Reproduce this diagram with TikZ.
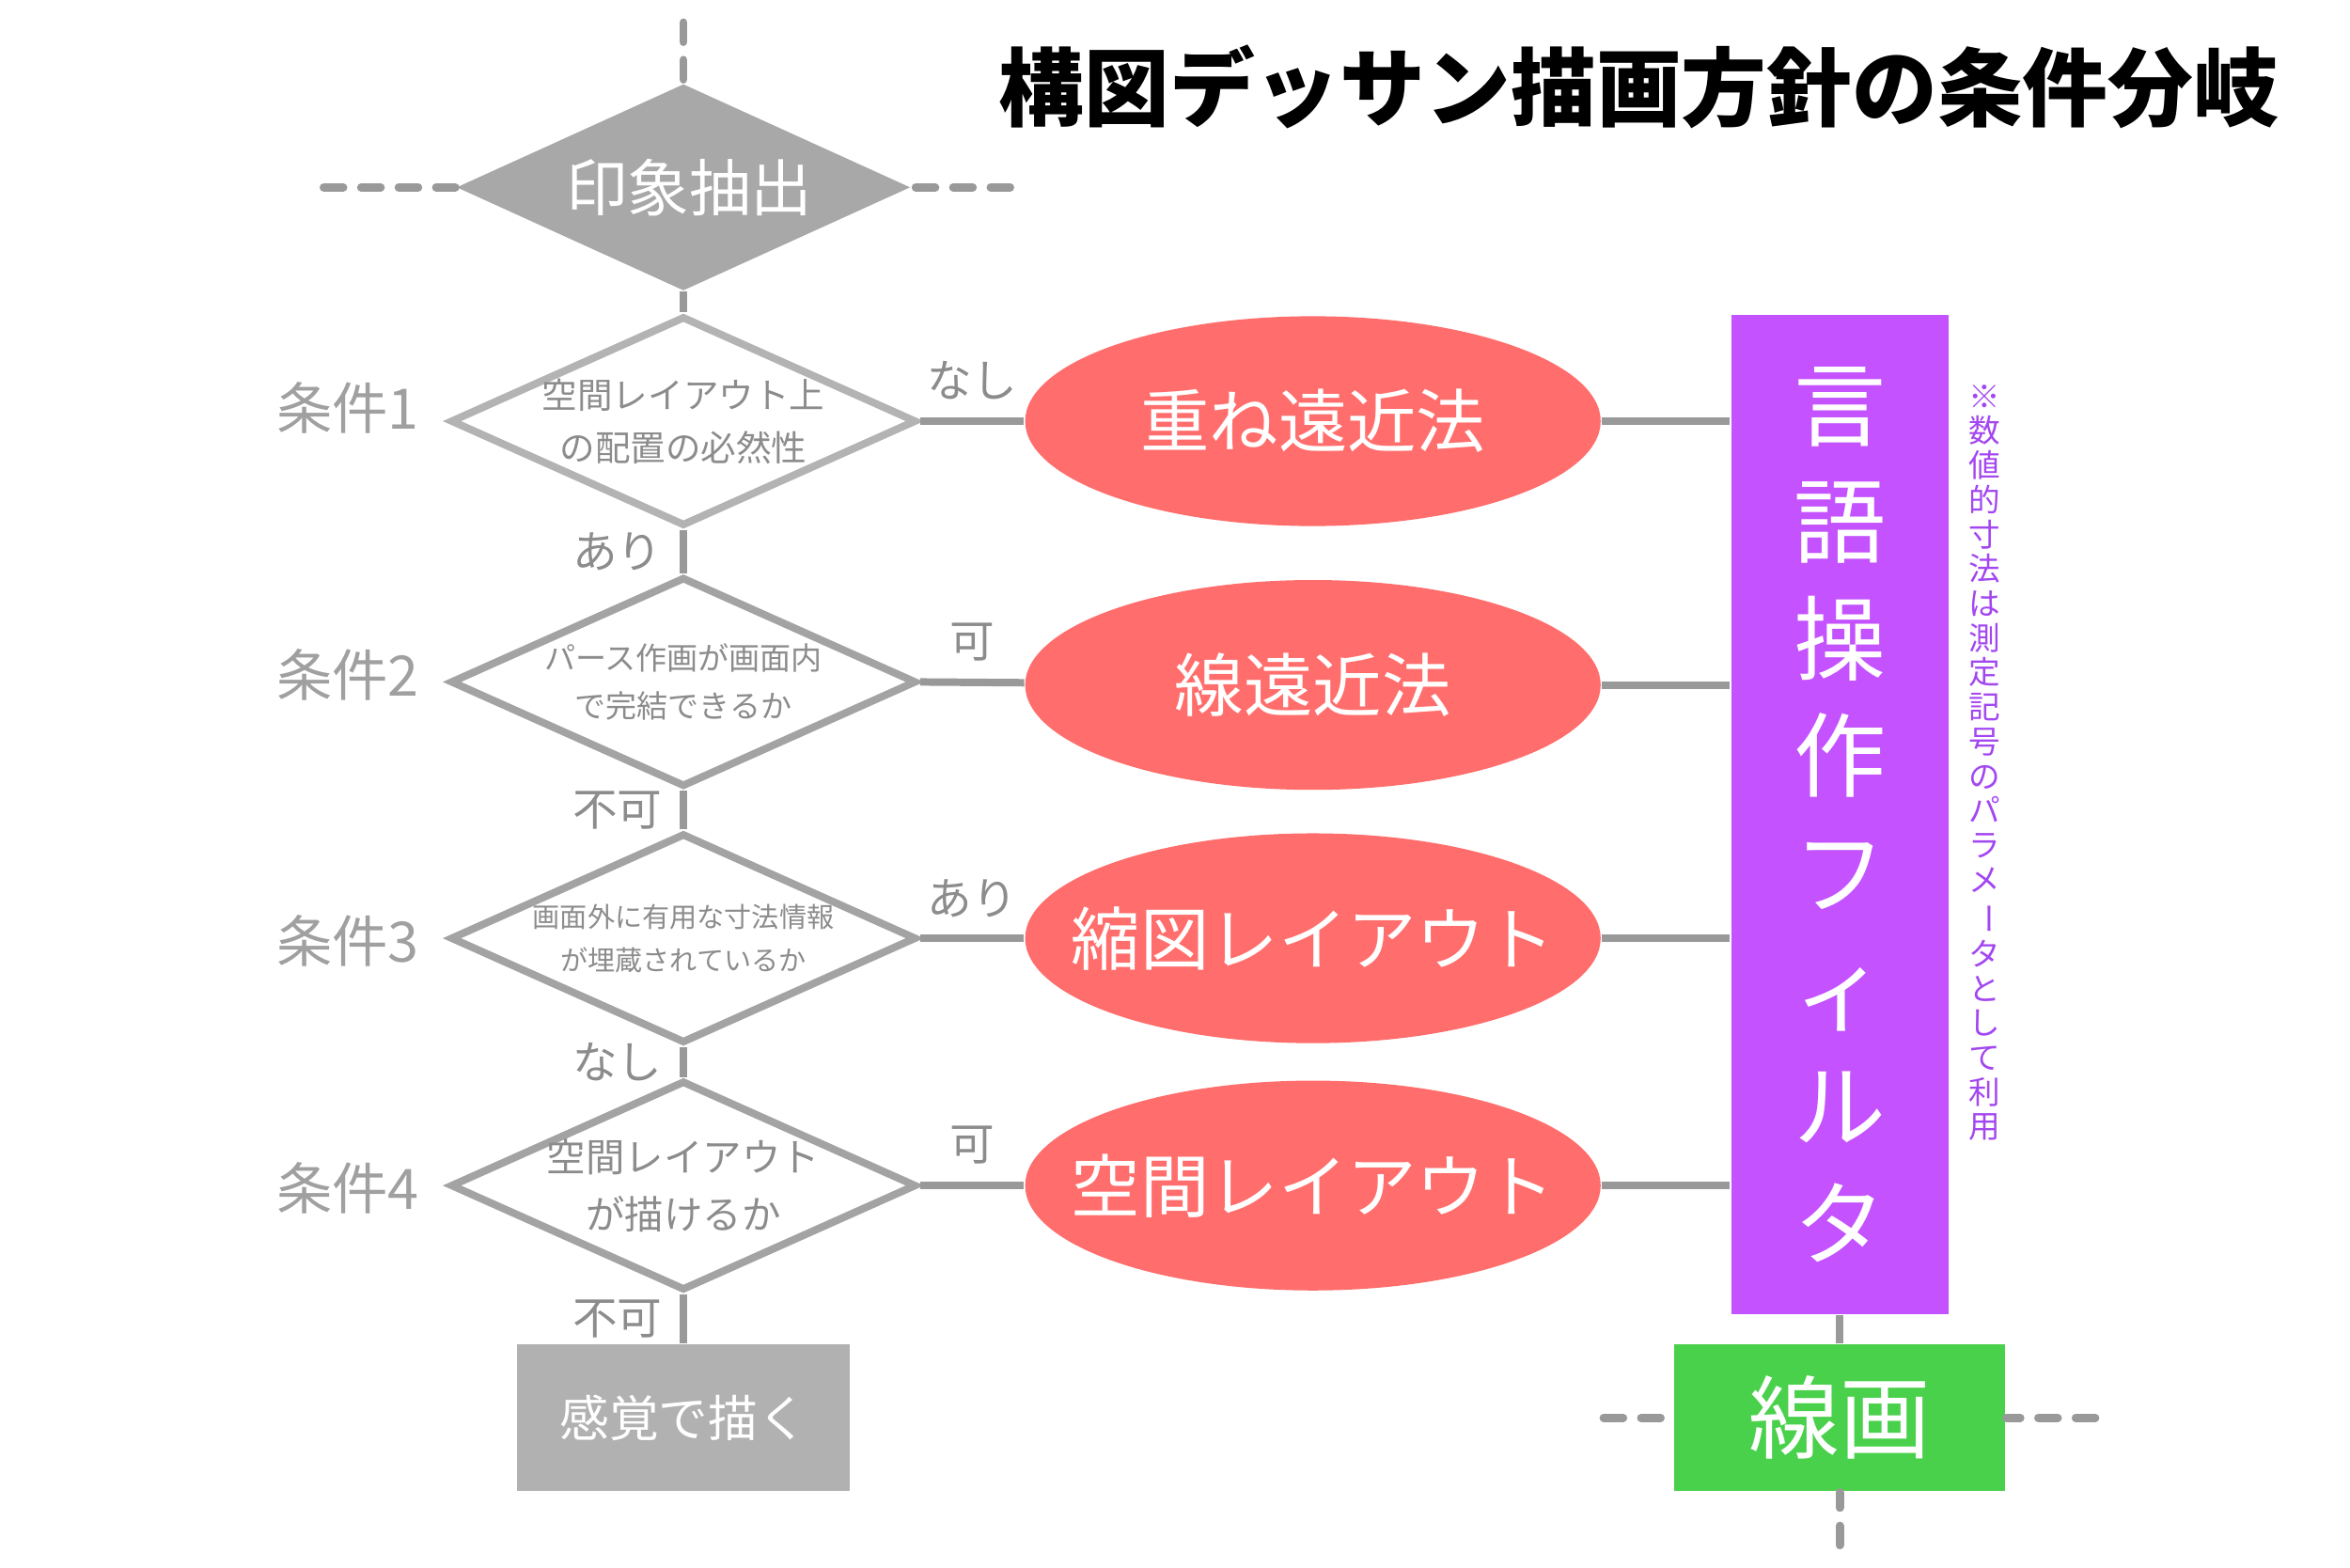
\documentclass[tikz,border=0pt]{standalone}
\usepackage{fontspec}
\usepackage{graphicx}
\setmainfont{Noto Sans CJK JP}
\usetikzlibrary{shapes.geometric, positioning}

\definecolor{wire}{HTML}{999999}
\definecolor{rimgray}{HTML}{A3A3A3}
\definecolor{rimlight}{HTML}{B3B3B3}
\definecolor{inkgray}{HTML}{8C8C8C}
\definecolor{capgray}{HTML}{A0A0A0}
\definecolor{topgray}{HTML}{A8A8A8}
\definecolor{feelgray}{HTML}{B1B1B1}
\definecolor{salmon}{HTML}{FF6E6C}
\definecolor{filterpurple}{HTML}{C452FF}
\definecolor{notepurple}{HTML}{A347F0}
\definecolor{linegreen}{HTML}{4AD14C}

\newcommand{\fsz}[2]{\fontsize{#1pt}{#2pt}\selectfont}

\tikzset{
  wire/.style={draw=wire, line width=0.05cm},
  loose/.style={draw=wire, line width=0.055cm, line cap=round, dash pattern=on 0.13cm off 0.12cm},
  lab/.style={text=inkgray, font=\fsz{8.5}{8.5}},
  condname/.style={text=capgray, font=\fsz{10.6}{10.6}},
  cond/.style={diamond, draw=rimgray, fill=white, line width=0.05cm, minimum width=3.11cm, minimum height=1.40cm, inner sep=0pt},
  condtext/.style={text=inkgray, align=center, inner sep=0pt},
  oval/.style={ellipse, fill=salmon, minimum width=3.84cm, minimum height=1.40cm, inner sep=0pt},
  ovaltext/.style={text=white, font=\fsz{13.1}{13.1}, inner sep=0pt}
}

\begin{document}
\begin{tikzpicture}
  \useasboundingbox (0,0) rectangle (15.68,-10.46);

  \node[font=\bfseries\fsz{16.2}{16.2}] (title) at (10.935,-0.58) {構図デッサン描画方針の条件分岐};

  \coordinate (a1) at (2.16,-1.25);
  \coordinate (a2) at (6.74,-1.25);
  \coordinate (a3) at (4.56,-0.15);
  \coordinate (b1) at (10.70,-9.46);
  \coordinate (b2) at (13.98,-9.46);
  \coordinate (b3) at (12.275,-10.31);

  \node[diamond, aspect=2.2, fill=topgray, minimum width=3.03cm, minimum height=1.38cm, inner sep=0pt, text=white, font=\fsz{11.7}{11.7}] (imp) at (4.56,-1.25) {\hspace{0.08cm}印象抽出};

  \node[cond, draw=rimlight, label={[condtext, font=\fsz{6.7}{10}]center:空間レイアウト上\\の配置の必然性}] (c1) at (4.56,-2.81) {};
  \node[cond, label={[condtext, font=\fsz{5.9}{9.1}]center:パース作画が画面内\\で完結できるか}] (c2) at (4.56,-4.55) {};
  \node[cond, label={[condtext, font=\fsz{5.2}{8.25}]center:画面外に有用な寸法情報\\が埋蔵されているか}] (c3) at (4.56,-6.26) {};
  \node[cond, label={[condtext, font=\fsz{7.4}{10.8}]center:空間レイアウト\\が描けるか}] (c4) at (4.56,-7.91) {};

  \node[condname] (k1) at (2.32,-2.72) {条件1};
  \node[condname] (k2) at (2.32,-4.50) {条件2};
  \node[condname] (k3) at (2.32,-6.28) {条件3};
  \node[condname] (k4) at (2.32,-7.93) {条件4};

  \node[oval, label={[ovaltext]center:重ね遠近法}] (e1) at (8.76,-2.81) {};
  \node[oval, label={[ovaltext]center:線遠近法}] (e2) at (8.76,-4.57) {};
  \node[oval, label={[ovaltext]center:縮図レイアウト}] (e3) at (8.76,-6.26) {};
  \node[oval, label={[ovaltext]center:空間レイアウト}] (e4) at (8.76,-7.91) {};

  \node[rectangle, fill=feelgray, minimum width=2.22cm, minimum height=0.98cm, inner sep=0pt, text=white, font=\fsz{9.4}{9.4}] (feel) at (4.56,-9.46) {感覚で描く};

  \node[rectangle, fill=filterpurple, minimum width=1.45cm, minimum height=6.67cm, inner sep=0pt, text=white, align=center, font=\fsz{17.5}{22.2}] (filter) at (12.275,-5.435) {言\\語\\操\\作\\フ\\ィ\\ル\\タ};

  \node[text=notepurple, align=center, inner sep=0pt, font=\fsz{6}{6.55}] (note) at (13.24,-5.09) {※\\数\\値\\的\\寸\\法\\は\\測\\定\\記\\号\\の\\パ\\ラ\\メ\\\rotatebox[origin=c]{-90}{ー}\\タ\\と\\し\\て\\利\\用};

  \node[rectangle, fill=linegreen, minimum width=2.21cm, minimum height=0.98cm, inner sep=0pt, text=white, font=\fsz{17.2}{17.2}] (ln) at (12.275,-9.46) {線画};

  \draw[loose] (a1) -- (imp.west);
  \draw[loose] (a2) -- (imp.east);
  \draw[loose] (a3) -- (imp.north);
  \draw[loose] (b1) -- (ln.west);
  \draw[loose] (b2) -- (ln.east);
  \draw[loose] (b3) -- (ln.south);

  \draw
  (imp) edge[wire] (c1)
  (c1) edge[wire] node[lab, left] {あり} (c2)
  (c2) edge[wire] node[lab, left] {不可} (c3)
  (c3) edge[wire] node[lab, left] {なし} (c4)
  (c4) edge[wire] node[lab, left] {不可} (feel)
  (c1.east) edge[wire] node[lab, above] {なし} (e1)
  (c2.east) edge[wire] node[lab, above] {可} (e2)
  (c3.east) edge[wire] node[lab, above] {あり} (e3)
  (c4.east) edge[wire] node[lab, above] {可} (e4)
  (e1.east) edge[wire] (e1.east -| filter.west)
  (e2.east) edge[wire] (e2.east -| filter.west)
  (e3.east) edge[wire] (e3.east -| filter.west)
  (e4.east) edge[wire] (e4.east -| filter.west)
  (filter) edge[wire] (ln);
\end{tikzpicture}
\end{document}
